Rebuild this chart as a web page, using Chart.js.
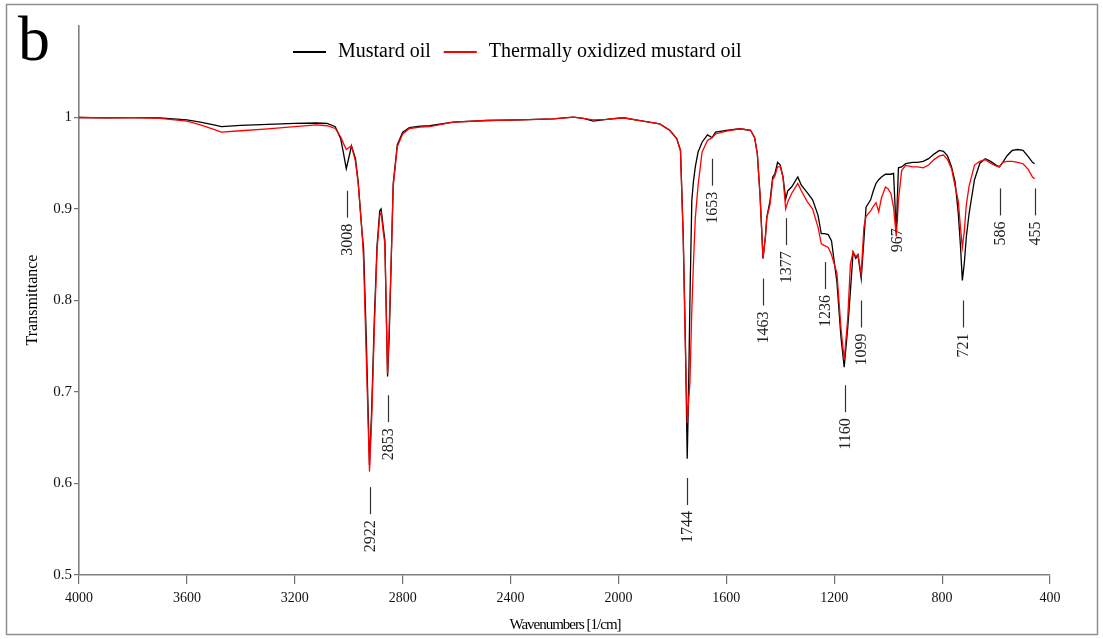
<!DOCTYPE html>
<html>
<head>
<meta charset="utf-8">
<title>FTIR spectra - mustard oil</title>
<script src="https://cdn.jsdelivr.net/npm/chart.js@4.4.1/dist/chart.umd.min.js"></script>
<style>
  html, body { margin: 0; padding: 0; background: #fff; }
  #wrap { width: 1103px; height: 639px; }
</style>
</head>
<body>
<div id="wrap"><canvas id="ftir" width="1103" height="639"></canvas></div>
<script>
// wavenumbers (1/cm)
const wavenumbers = [
  4000, 3900, 3800, 3700, 3600, 3550, 3500, 3472, 3400, 3300,
  3200, 3120, 3080, 3050, 3030, 3020, 3009, 2995, 2990, 2975,
  2965, 2950, 2945, 2935, 2923, 2915, 2905, 2895, 2885, 2880,
  2872, 2866, 2856, 2850, 2843, 2835, 2820, 2800, 2775, 2735,
  2700, 2613, 2488, 2365, 2243, 2167, 2130, 2093, 2044, 1982,
  1920, 1847, 1810, 1784, 1770, 1760, 1752, 1745, 1740, 1735,
  1728, 1722, 1715, 1705, 1690, 1670, 1653, 1640, 1600, 1550,
  1510, 1495, 1485, 1475, 1464, 1455, 1450, 1438, 1428, 1420,
  1410, 1400, 1390, 1380, 1372, 1358, 1335, 1322, 1300, 1280,
  1260, 1248, 1236, 1222, 1210, 1190, 1175, 1163, 1150, 1140,
  1130, 1120, 1112, 1100, 1090, 1082, 1065, 1055, 1045, 1035,
  1025, 1010, 1000, 990, 980, 970, 962, 950, 935, 910,
  890, 870, 850, 830, 810, 795, 780, 765, 752, 740,
  732, 725, 718, 710, 700, 680, 660, 640, 620, 600,
  588, 575, 560, 540, 520, 500, 480, 465, 457
];

// transmittance, mustard oil (black)
const mustardOil = [
  1.000, 0.9995, 0.9998, 0.9995, 0.9975, 0.995, 0.992, 0.990, 0.9913, 0.9924,
  0.9935, 0.994, 0.9935, 0.990, 0.977, 0.962, 0.944, 0.962, 0.969, 0.955,
  0.930, 0.872, 0.858, 0.760, 0.620, 0.680, 0.780, 0.860, 0.898, 0.900,
  0.880, 0.866, 0.717, 0.760, 0.837, 0.928, 0.970, 0.984, 0.989, 0.9905,
  0.991, 0.995, 0.9967, 0.9975, 0.9985, 1.0003, 0.999, 0.996, 0.998, 0.9997,
  0.9967, 0.993, 0.986, 0.977, 0.964, 0.873, 0.760, 0.627, 0.700, 0.800,
  0.909, 0.930, 0.946, 0.962, 0.973, 0.981, 0.978, 0.984, 0.986, 0.9877,
  0.986, 0.978, 0.960, 0.915, 0.846, 0.870, 0.891, 0.909, 0.935, 0.9385,
  0.951, 0.948, 0.935, 0.911, 0.920, 0.924, 0.935, 0.926, 0.918, 0.910,
  0.893, 0.873, 0.873, 0.872, 0.865, 0.820, 0.760, 0.727, 0.770, 0.810,
  0.853, 0.846, 0.850, 0.824, 0.866, 0.902, 0.910, 0.920, 0.928, 0.932,
  0.935, 0.938, 0.938, 0.938, 0.939, 0.875, 0.945, 0.946, 0.9495, 0.951,
  0.951, 0.952, 0.955, 0.960, 0.964, 0.963, 0.958, 0.946, 0.930, 0.895,
  0.860, 0.822, 0.840, 0.870, 0.895, 0.932, 0.950, 0.955, 0.952, 0.948,
  0.946, 0.951, 0.958, 0.964, 0.965, 0.964, 0.957, 0.951, 0.9495
];

// transmittance, thermally oxidized mustard oil (red)
const oxidizedOil = [
  1.000, 0.9995, 0.9998, 0.999, 0.996, 0.992, 0.987, 0.984, 0.9855, 0.9876,
  0.990, 0.992, 0.991, 0.988, 0.979, 0.972, 0.965, 0.968, 0.969, 0.952,
  0.928, 0.872, 0.845, 0.740, 0.613, 0.670, 0.770, 0.855, 0.893, 0.896,
  0.875, 0.862, 0.720, 0.770, 0.840, 0.925, 0.968, 0.982, 0.988, 0.9894,
  0.990, 0.995, 0.9967, 0.9975, 0.9985, 1.0003, 0.999, 0.9975, 0.998, 0.9997,
  0.9967, 0.993, 0.986, 0.977, 0.964, 0.870, 0.750, 0.666, 0.690, 0.710,
  0.790, 0.840, 0.890, 0.925, 0.962, 0.975, 0.978, 0.982, 0.985, 0.9877,
  0.986, 0.978, 0.960, 0.915, 0.846, 0.870, 0.890, 0.905, 0.932, 0.936,
  0.946, 0.946, 0.935, 0.900, 0.908, 0.917, 0.928, 0.920, 0.908, 0.900,
  0.880, 0.862, 0.860, 0.858, 0.850, 0.830, 0.770, 0.735, 0.780, 0.840,
  0.853, 0.848, 0.850, 0.829, 0.880, 0.892, 0.898, 0.903, 0.907, 0.897,
  0.912, 0.924, 0.922, 0.917, 0.902, 0.870, 0.909, 0.942, 0.9476, 0.946,
  0.946, 0.945, 0.948, 0.954, 0.958, 0.959, 0.954, 0.944, 0.925, 0.909,
  0.880, 0.858, 0.875, 0.905, 0.925, 0.948, 0.952, 0.954, 0.950, 0.947,
  0.946, 0.951, 0.952, 0.952, 0.951, 0.9495, 0.943, 0.935, 0.933
];

const seriesNames = ['Mustard oil', 'Thermally oxidized mustard oil'];
const xTicks = [4000, 3600, 3200, 2800, 2400, 2000, 1600, 1200, 800, 400];
const yTicks = [0.5, 0.6, 0.7, 0.8, 0.9, 1];

// peak annotations: label, wavenumber, transmittance where the marker starts
const peakLabels = ['3008', '2922', '2853', '1744', '1653', '1463', '1377', '1236', '1160', '1099', '967', '721', '586', '455'];
const peakPositions = [3008, 2922, 2853, 1744, 1653, 1463, 1377, 1236, 1160, 1099, 967, 721, 586, 455];
const peakMarkTops = [0.920, 0.596, 0.6965, 0.606, 0.955, 0.824, 0.890, 0.842, 0.7074, 0.800, 0.915, 0.800, 0.9225, 0.9225];

const SERIF = '"Liberation Serif", "Times New Roman", serif';

function toPoints(values) {
  return wavenumbers.map((wn, i) => ({ x: wn, y: values[i] }));
}

// frame, panel letter, legend, axis titles and peak marks
const figureDecor = {
  id: 'figureDecor',
  afterDraw(chart) {
    const { ctx } = chart;
    const xs = chart.scales.x;
    const ys = chart.scales.y;
    ctx.save();

    // outer frame
    ctx.strokeStyle = '#8f8f8f';
    ctx.lineWidth = 1.5;
    ctx.strokeRect(6.5, 4.5, 1091, 630);

    // panel letter
    ctx.fillStyle = '#000';
    ctx.font = '64px ' + SERIF;
    ctx.textAlign = 'left';
    ctx.textBaseline = 'alphabetic';
    ctx.fillText('b', 18, 60);

    // legend
    ctx.font = '20px ' + SERIF;
    ctx.textBaseline = 'middle';
    let lx = 293;
    chart.data.datasets.forEach((ds) => {
      ctx.strokeStyle = ds.borderColor;
      ctx.lineWidth = 2;
      ctx.beginPath();
      ctx.moveTo(lx, 52);
      ctx.lineTo(lx + 33, 52);
      ctx.stroke();
      ctx.fillStyle = '#000';
      ctx.fillText(ds.label, lx + 45, 52);
      lx += 45 + ctx.measureText(ds.label).width + 13;
    });

    // axis titles
    ctx.fillStyle = '#000';
    ctx.font = '16px ' + SERIF;
    ctx.textAlign = 'center';
    ctx.save();
    ctx.translate(33, 300);
    ctx.rotate(-Math.PI / 2);
    ctx.fillText('Transmittance', 0, 0);
    ctx.restore();

    ctx.save();
    ctx.font = '15px ' + SERIF;
    ctx.letterSpacing = '-1px';
    ctx.fillText('Wavenumbers [1/cm]', 565, 625);
    ctx.restore();

    // peak marks
    ctx.font = '16px ' + SERIF;
    ctx.textAlign = 'right';
    ctx.textBaseline = 'middle';
    peakLabels.forEach((label, i) => {
      const px = Math.round(xs.getPixelForValue(peakPositions[i])) + 0.5;
      const top = ys.getPixelForValue(peakMarkTops[i]);
      ctx.strokeStyle = '#333';
      ctx.lineWidth = 1.2;
      ctx.beginPath();
      ctx.moveTo(px, top);
      ctx.lineTo(px, top + 27);
      ctx.stroke();
      ctx.save();
      ctx.translate(px, top + 33);
      ctx.rotate(-Math.PI / 2);
      ctx.fillStyle = '#222';
      ctx.fillText(label, 0, 0);
      ctx.restore();
    });

    ctx.restore();
  }
};

new Chart(document.getElementById('ftir'), {
  type: 'line',
  data: {
    datasets: [
      {
        label: seriesNames[0],
        data: toPoints(mustardOil),
        borderColor: '#000000',
        borderWidth: 1.3,
        pointRadius: 0,
        tension: 0,
        order: 2,
      },
      {
        label: seriesNames[1],
        data: toPoints(oxidizedOil),
        borderColor: '#ff0000',
        borderWidth: 1.3,
        pointRadius: 0,
        tension: 0,
        order: 1,
      },
    ],
  },
  options: {
    responsive: false,
    animation: false,
    events: [],
    layout: {
      padding: { left: 0, top: 26, right: 53, bottom: 0 },
    },
    plugins: {
      legend: { display: false },
      tooltip: { enabled: false },
    },
    scales: {
      x: {
        type: 'linear',
        reverse: true,
        min: 400,
        max: 4000,
        afterBuildTicks: (scale) => {
          scale.ticks = xTicks.map((v) => ({ value: v }));
        },
        afterFit: (scale) => {
          scale.height = 64;
        },
        grid: {
          drawOnChartArea: false,
          drawTicks: true,
          tickLength: 9,
          color: '#707070',
          lineWidth: 1.2,
        },
        border: { display: true, color: '#808080', width: 1.6 },
        ticks: {
          color: '#111',
          padding: 6,
          maxRotation: 0,
          font: { family: SERIF, size: 14 },
          callback: (v) => String(v),
        },
      },
      y: {
        type: 'linear',
        min: 0.5,
        max: 1.1,
        afterBuildTicks: (scale) => {
          scale.ticks = yTicks.map((v) => ({ value: v }));
        },
        afterFit: (scale) => {
          scale.width = 79;
        },
        grid: {
          drawOnChartArea: false,
          drawTicks: true,
          tickLength: 5,
          color: '#707070',
          lineWidth: 1.2,
        },
        border: { display: true, color: '#808080', width: 1.6 },
        ticks: {
          color: '#111',
          padding: 2,
          font: { family: SERIF, size: 15 },
          callback: (v) => String(Math.round(v * 10) / 10),
        },
      },
    },
  },
  plugins: [figureDecor],
});
</script>
</body>
</html>
